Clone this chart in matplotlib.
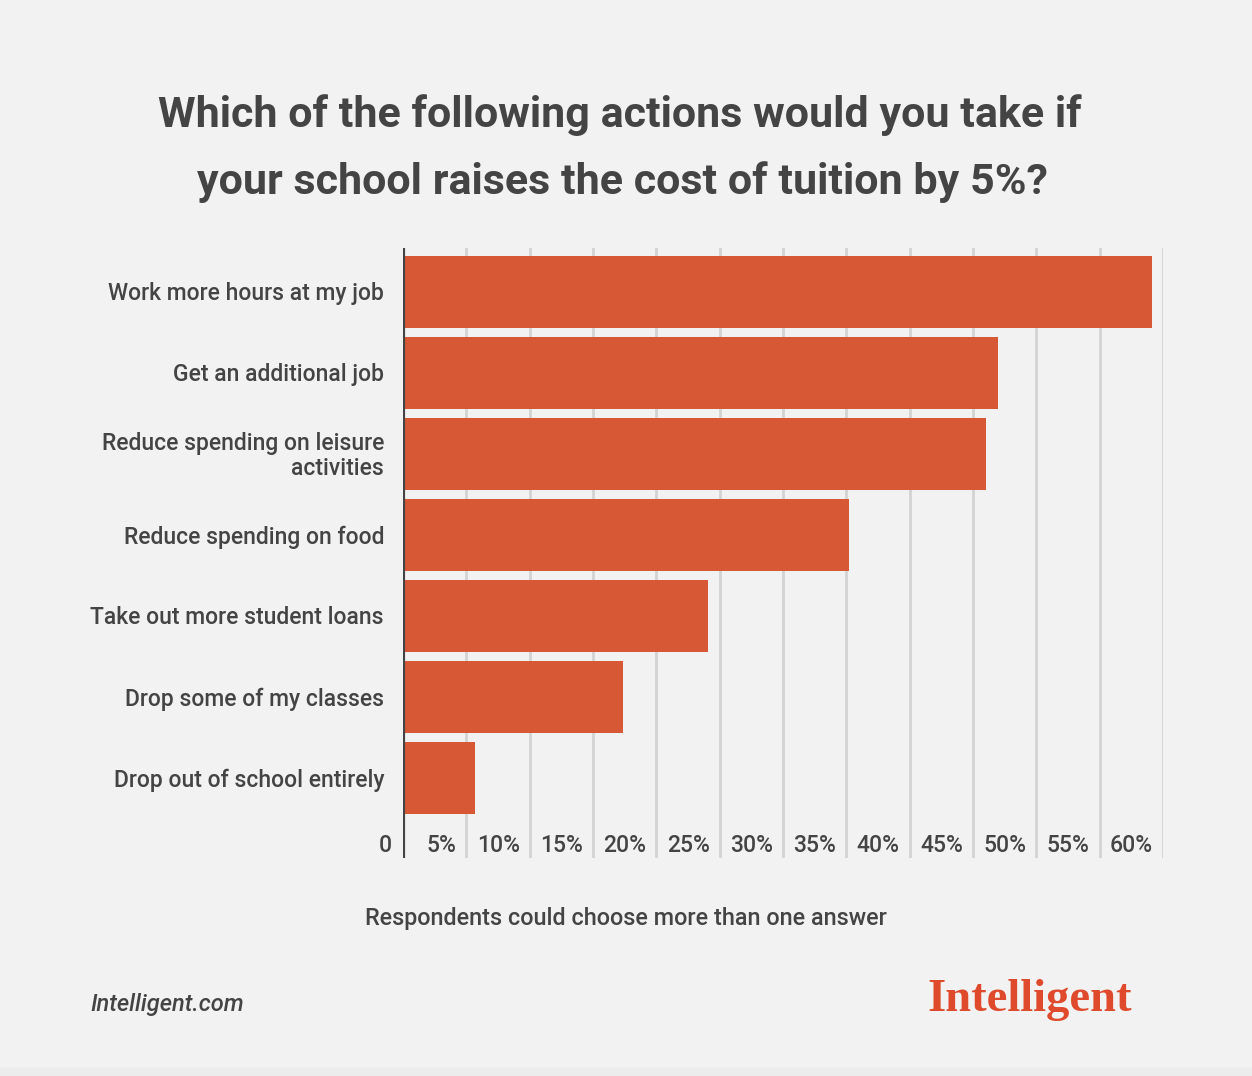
import matplotlib.pyplot as plt
import matplotlib.transforms as mtransforms
from matplotlib.patches import Rectangle

plt.rcParams['font.family'] = ['Roboto', 'DejaVu Sans']

# data (percent of respondents)
actions = ['Work more hours at my job',
           'Get an additional job',
           'Reduce spending on leisure\nactivities',
           'Reduce spending on food',
           'Take out more student loans',
           'Drop some of my classes',
           'Drop out of school entirely']
shares = [59.1, 47.0, 46.0, 35.2, 24.1, 17.4, 5.7]
ticks = [0, 5, 10, 15, 20, 25, 30, 35, 40, 45, 50, 55, 60]
tick_labels = ['0', '5%', '10%', '15%', '20%', '25%', '30%', '35%',
               '40%', '45%', '50%', '55%', '60%']

W, H = 1252, 1076
bg = '#f2f2f2'
bar_col = '#d75834'
txt = '#444444'

fig = plt.figure(figsize=(W / 100, H / 100), dpi=100, facecolor=bg)
# axes box in pixels: x 403..1163, y 248..858
ax = fig.add_axes([403 / W, 1 - 858 / H, 760 / W, 610 / H])
ax.set_facecolor(bg)

ypos = list(range(len(actions)))
ax.barh(ypos, shares, height=0.9, color=bar_col, zorder=3)
ax.set_xlim(0, 60)
ax.set_ylim(6.988, -0.543)

for t in ticks[1:]:
    ax.axvline(t, color='#d3d3d3', lw=2, zorder=1)
ax.axvline(0, color='#444444', lw=3, zorder=4)

for s in ax.spines.values():
    s.set_visible(False)
ax.set_xticks([])
ax.set_yticks([])

# category labels, right aligned left of the axis
lab_tr = mtransforms.offset_copy(ax.transData, fig=fig, x=-19, y=-2, units='dots')
for y, a in zip(ypos, actions):
    ax.text(0, y, a, transform=lab_tr, ha='right', va='center',
            fontsize=16.5, fontweight='medium', color=txt, linespacing=1.15,
            clip_on=False)

# tick labels sit just left of each gridline
tick_tr = mtransforms.blended_transform_factory(ax.transData, ax.transAxes)
for t, lab in zip(ticks, tick_labels):
    off = -11 if t == 0 else -10
    tr = mtransforms.offset_copy(tick_tr, fig=fig, x=off, y=0, units='dots')
    ax.text(t, 12 / 610, lab, transform=tr, ha='right', va='center',
            fontsize=16.5, fontweight='medium', color=txt, clip_on=False)

fig.text(620 / W, 1 - 115 / H, 'Which of the following actions would you take if',
         ha='center', va='center', fontsize=31, fontweight='bold', color=txt)
fig.text(622 / W, 1 - 182 / H, 'your school raises the cost of tuition by 5%?',
         ha='center', va='center', fontsize=31, fontweight='bold', color=txt)

fig.text(626 / W, 1 - 918 / H, 'Respondents could choose more than one answer',
         ha='center', va='center', fontsize=16.8, fontweight='medium', color=txt)

fig.text(90 / W, 1 - 1004 / H, 'Intelligent.com', ha='left', va='center',
         fontsize=17, fontweight='medium', fontstyle='italic', color=txt)
fig.text(1030 / W, 1 - 1000 / H, 'Intelligent', ha='center', va='center',
         fontsize=33.5, fontweight='bold', color='#e04a2c',
         family=['Liberation Serif', 'DejaVu Serif'])

# faint darker strip at the very bottom
fig.patches.append(Rectangle((0, 0), 1, 8 / H, transform=fig.transFigure,
                             color='#ececec', zorder=0))

fig.savefig('out.png', dpi=100, facecolor=bg)
